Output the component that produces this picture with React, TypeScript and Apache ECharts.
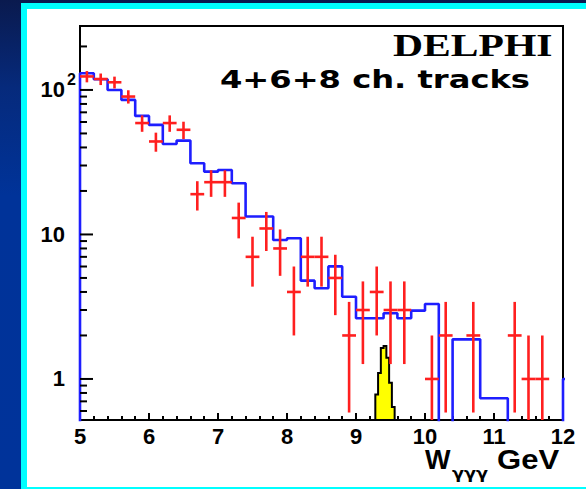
import React, { useEffect, useRef } from "react";
import * as echarts from "echarts";

// Monte Carlo expectation: lower edge of each 0.2 GeV bin and its content
const mcBinLow = [
  5.0, 5.2, 5.4, 5.6, 5.8, 6.0, 6.2, 6.4, 6.6, 6.8, 7.0, 7.2, 7.4, 7.6, 7.8, 8.0, 8.2, 8.4,
  8.6, 8.8, 9.0, 9.2, 9.4, 9.6, 9.8, 10.0, 10.2, 10.4, 10.6, 10.8, 11.0, 11.2, 11.4, 11.6, 11.8, 12.0,
];
const mcBinWidth = 0.2;
const mcValues = [
  130.5, 118.6, 100, 85.3, 66.1, 57.3, 42.3, 44.6, 31.1, 27.2, 27.9, 22.6, 13.3, 13.3, 9.16, 9.41,
  4.79, 4.24, 6.01, 3.71, 2.63, 2.63, 2.85, 2.63, 2.97, 3.3, 0, 1.88, 1.88, 0.735, 0.735, 0, 0, 0, 0, 1.0,
];

// Observed events: bin centres and counts (error bars are sqrt(N))
const dataX = [
  5.1, 5.3, 5.5, 5.7, 5.9, 6.1, 6.3, 6.5, 6.7, 6.9, 7.1, 7.3, 7.5, 7.7, 7.9, 8.1, 8.3, 8.5, 8.7,
  8.9, 9.1, 9.3, 9.5, 9.7, 10.1, 10.3, 10.7, 11.3, 11.5, 11.7,
];
const dataCounts = [
  124, 119, 113, 90, 59, 44, 59, 53, 19, 23, 23, 13, 7, 11, 8, 4, 7, 7, 5, 2, 3, 4, 3, 3, 1, 2, 2, 2, 1, 1,
];
const dataHalfWidth = 0.1;

// Expected signal peak (fine binning)
const signalEdges = [9.28, 9.32, 9.36, 9.4, 9.44, 9.48, 9.52, 9.56];
const signalValues = [0.78, 1.1, 1.64, 1.69, 1.4, 0.94, 0.64];

// Axis ticks
const xTickLabels = ["5", "6", "7", "8", "9", "10", "11", "12"];
const yMajorTicks = [1, 10, 100];
const yMajorLabels = [
  ["1", ""],
  ["10", ""],
  ["10", "2"],
];
const yMinorTicks = [0.6, 0.7, 0.8, 0.9, 2, 3, 4, 5, 6, 7, 8, 9, 20, 30, 40, 50, 60, 70, 80, 90, 200];

const X_MIN = 5;
const X_MAX = 12;
const Y_MIN = 0.52;
const Y_MAX = 277;
const FLOOR = 0.01; // empty bins on the log axis fall below the frame and get clipped

const SANS = '"Liberation Sans", Arial, sans-serif';

function buildStepLine(): number[][] {
  const pts: number[][] = [];
  mcBinLow.forEach((lo, i) => {
    const v = mcValues[i] > 0 ? mcValues[i] : FLOOR;
    if (i === 0) pts.push([lo, FLOOR]);
    pts.push([lo, v], [lo + mcBinWidth, v]);
  });
  pts.push([mcBinLow[mcBinLow.length - 1] + mcBinWidth, FLOOR]);
  return pts;
}

export default function App() {
  const ref = useRef<HTMLDivElement>(null);

  useEffect(() => {
    if (!ref.current) return;
    const chart = echarts.init(ref.current, undefined, { renderer: "svg" });

    const option: any = {
      animation: false,
      backgroundColor: "transparent",
      grid: {
        left: 80,
        top: 26,
        width: 483,
        height: 394,
        show: true,
        borderColor: "#000",
        borderWidth: 2,
        backgroundColor: "transparent",
      },
      xAxis: {
        type: "value",
        min: X_MIN,
        max: X_MAX,
        interval: 1,
        axisLine: { show: true, lineStyle: { color: "#000", width: 2 } },
        axisTick: { show: true, inside: true, length: 7, lineStyle: { color: "#000", width: 2 } },
        minorTick: { show: true, splitNumber: 5, length: 4, lineStyle: { color: "#000", width: 2 } },
        splitLine: { show: false },
        axisLabel: {
          margin: 5,
          color: "#000",
          fontFamily: SANS,
          fontWeight: "bold",
          fontSize: 22,
          formatter: (v: number) => xTickLabels[Math.round(v - X_MIN)] ?? "",
        },
      },
      yAxis: {
        type: "log",
        logBase: 10,
        min: Y_MIN,
        max: Y_MAX,
        axisLine: { show: true, lineStyle: { color: "#000", width: 2 } },
        axisTick: { show: false },
        axisLabel: { show: false },
        splitLine: { show: false },
      },
      graphic: {
        elements: [
          {
            type: "text",
            x: 393,
            y: 45,
            scaleX: 1.3,
            z: 10,
            style: {
              text: "DELPHI",
              font: 'bold 32px "Liberation Serif", "Times New Roman", serif',
              fill: "#000",
              align: "left",
              verticalAlign: "middle",
            },
          },
          {
            type: "text",
            x: 220,
            y: 80,
            scaleX: 1.34,
            z: 10,
            style: {
              text: "4+6+8 ch. tracks",
              font: 'bold 24px "DejaVu Sans", sans-serif',
              fill: "#000",
              align: "left",
              verticalAlign: "middle",
            },
          },
          {
            type: "text",
            x: 425,
            y: 460,
            z: 10,
            style: {
              text: "W",
              font: `bold 27px ${SANS}`,
              fill: "#000",
              align: "left",
              verticalAlign: "middle",
            },
          },
          {
            type: "text",
            x: 452,
            y: 473,
            scaleX: 1.1,
            z: 10,
            style: {
              text: "γγγ",
              font: 'bold 16px "DejaVu Sans", sans-serif',
              fill: "#000",
              align: "left",
              verticalAlign: "middle",
            },
          },
          {
            type: "text",
            x: 497,
            y: 460,
            scaleX: 1.15,
            z: 10,
            style: {
              text: "GeV",
              font: `bold 27px ${SANS}`,
              fill: "#000",
              align: "left",
              verticalAlign: "middle",
            },
          },
        ],
      },
      series: [
        {
          // signal peak: yellow filled histogram with black outline
          type: "custom",
          name: "signal",
          coordinateSystem: "cartesian2d",
          clip: true,
          z: 2,
          data: [[signalEdges[0], signalValues[0]]],
          renderItem: (_params: any, api: any) => {
            const pts: number[][] = [];
            pts.push(api.coord([signalEdges[0], Y_MIN]));
            signalValues.forEach((v, i) => {
              pts.push(api.coord([signalEdges[i], v]));
              pts.push(api.coord([signalEdges[i + 1], v]));
            });
            pts.push(api.coord([signalEdges[signalEdges.length - 1], Y_MIN]));
            return {
              type: "polygon",
              shape: { points: pts },
              style: { fill: "#ffff00", stroke: "#000", lineWidth: 2 },
            };
          },
        },
        {
          // Monte Carlo histogram
          type: "line",
          name: "mc",
          data: buildStepLine(),
          showSymbol: false,
          symbol: "none",
          clip: true,
          z: 3,
          lineStyle: { color: "#1e1eff", width: 2.6 },
        },
        {
          // data points with error bars
          type: "custom",
          name: "data",
          coordinateSystem: "cartesian2d",
          clip: true,
          z: 4,
          encode: { x: 0, y: 1 },
          data: dataX.map((x, i) => [x, dataCounts[i], Math.sqrt(dataCounts[i])]),
          renderItem: (_params: any, api: any) => {
            const x = api.value(0);
            const n = api.value(1);
            const e = api.value(2);
            const l = api.coord([x - dataHalfWidth, n]);
            const r = api.coord([x + dataHalfWidth, n]);
            const t = api.coord([x, n + e]);
            const b = api.coord([x, Math.max(n - e, FLOOR)]);
            const style = { stroke: "#ff1f1f", lineWidth: 2.6 };
            return {
              type: "group",
              children: [
                { type: "line", shape: { x1: l[0], y1: l[1], x2: r[0], y2: r[1] }, style },
                { type: "line", shape: { x1: t[0], y1: t[1], x2: b[0], y2: b[1] }, style },
              ],
            };
          },
        },
        {
          // y axis: inward log ticks and decade labels
          type: "custom",
          name: "yticks",
          coordinateSystem: "cartesian2d",
          clip: false,
          silent: true,
          z: 5,
          encode: { x: 0, y: 1 },
          data: [
            ...yMajorTicks.map((v, i) => [X_MIN, v, 1, i]),
            ...yMinorTicks.map((v) => [X_MIN, v, 0, -1]),
          ],
          renderItem: (_params: any, api: any) => {
            const v = api.value(1);
            const major = api.value(2) === 1;
            const p = api.coord([X_MIN, v]);
            const len = major ? 13 : 7;
            const children: any[] = [
              {
                type: "line",
                shape: { x1: p[0], y1: p[1], x2: p[0] + len, y2: p[1] },
                style: { stroke: "#000", lineWidth: 2 },
              },
            ];
            if (major) {
              const [base, exp] = yMajorLabels[api.value(3)];
              children.push({
                type: "text",
                x: p[0] - 15,
                y: p[1],
                style: {
                  text: base,
                  font: `bold 22px ${SANS}`,
                  fill: "#000",
                  align: "right",
                  verticalAlign: "middle",
                },
              });
              if (exp) {
                children.push({
                  type: "text",
                  x: p[0] - 13,
                  y: p[1] - 10,
                  style: {
                    text: exp,
                    font: `bold 16px ${SANS}`,
                    fill: "#000",
                    align: "left",
                    verticalAlign: "middle",
                  },
                });
              }
            }
            return { type: "group", children };
          },
        },
      ],
    };

    chart.setOption(option);
    return () => chart.dispose();
  }, []);

  return (
    <div
      style={{
        position: "fixed",
        left: 0,
        top: 0,
        width: 586,
        height: 489,
        overflow: "hidden",
        background: "linear-gradient(180deg, #0a1a4e 0%, #062a7c 18%, #003399 40%, #00339a 100%)",
      }}
    >
      <div
        style={{
          position: "absolute",
          left: 21,
          top: 3,
          width: 600,
          height: 500,
          background: "#00ffff",
        }}
      />
      <div
        style={{
          position: "absolute",
          left: 27,
          top: 9,
          width: 600,
          height: 478,
          background: "#ffffff",
        }}
      />
      <div ref={ref} style={{ position: "absolute", left: 0, top: 0, width: 586, height: 489 }} />
    </div>
  );
}
